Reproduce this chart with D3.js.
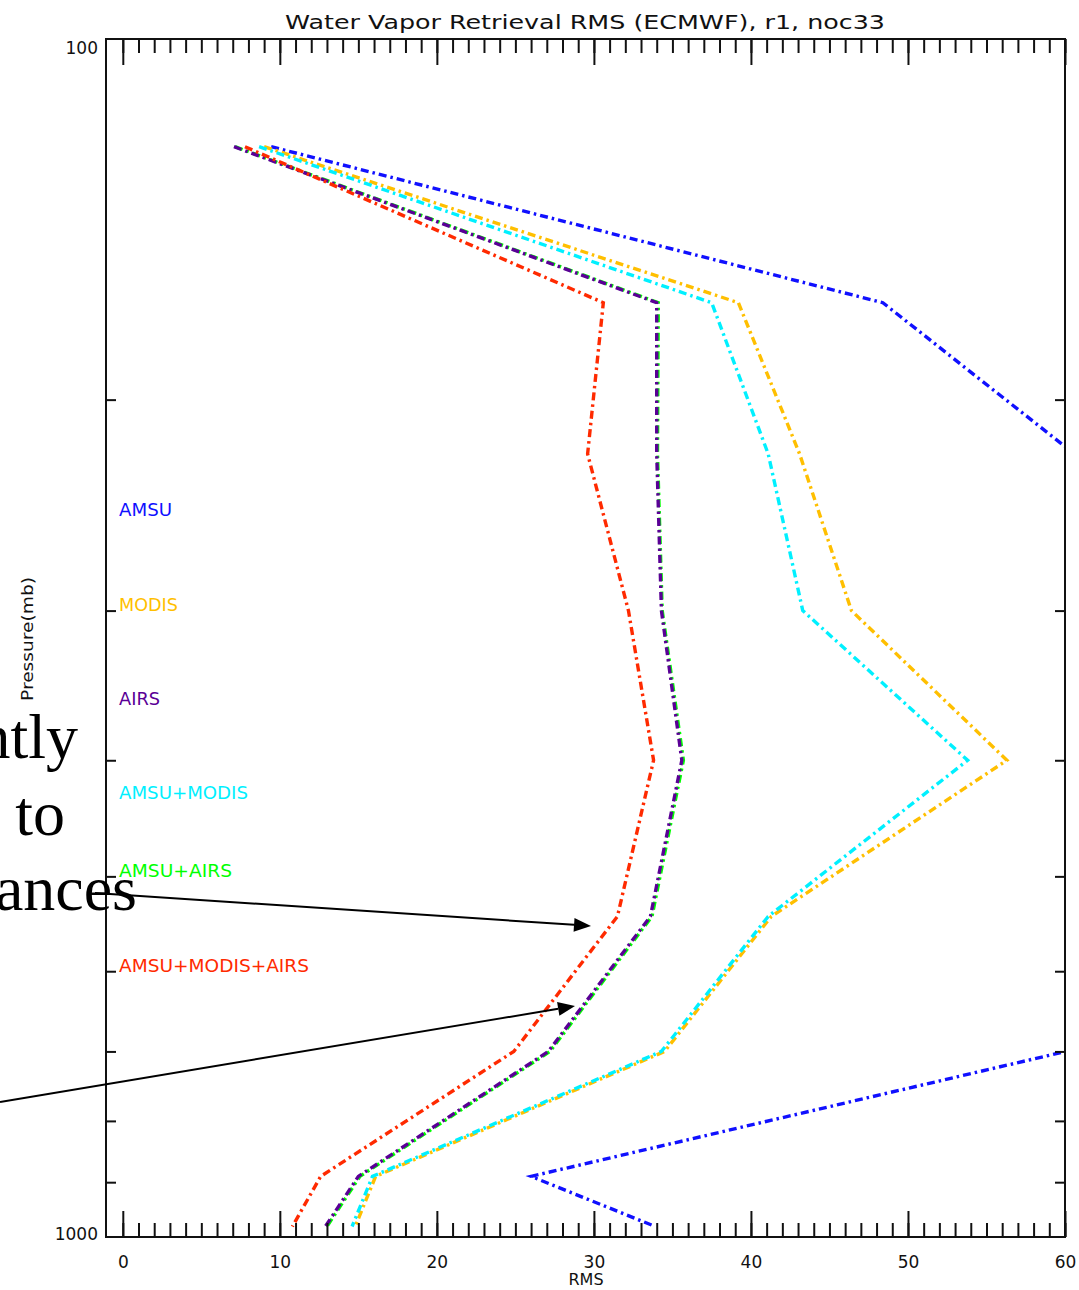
<!DOCTYPE html>
<html>
<head>
<meta charset="utf-8">
<script src="https://cdn.jsdelivr.net/npm/d3@7"></script>
<style>
  html, body { margin: 0; padding: 0; background: #fff; }
  svg { display: block; }
  .lbl { font-family: "DejaVu Sans", sans-serif; font-weight: normal; }
  .slide { font-family: "Liberation Serif", "Times New Roman", serif; }
</style>
</head>
<body>
<div id="chart"></div>
<script>
// Retrieval pressure levels (mb) and RMS profiles for each sensor combination
const pressureLevels = [123, 166, 222, 300, 400, 540, 700, 890, 980];
const rmsAMSU        = [9.45, 48.4, 60.6, 72.0, 78.0, 70.0, 60.05, 26.0, 33.9];
const rmsMODIS       = [9.0, 39.2, 43.1, 46.4, 56.3, 41.3, 34.5, 16.1, 14.8];
const rmsAIRS        = [7.08, 34.0, 34.0, 34.3, 35.6, 33.6, 27.1, 15.0, 12.9];
const rmsAmsuModis   = [8.68, 37.5, 41.1, 43.3, 53.8, 41.1, 34.3, 15.9, 14.6];
const rmsAmsuAirs    = [7.15, 34.1, 34.05, 34.35, 35.7, 33.7, 27.2, 15.1, 13.0];
const rmsAll         = [7.78, 30.6, 29.6, 32.2, 33.8, 31.5, 24.9, 12.6, 10.8];

const seriesNames  = ["AMSU", "MODIS", "AIRS", "AMSU+MODIS", "AMSU+AIRS", "AMSU+MODIS+AIRS"];
const seriesValues = [rmsAMSU, rmsMODIS, rmsAIRS, rmsAmsuModis, rmsAmsuAirs, rmsAll];
const seriesColors = ["#1010ff", "#ffbf00", "#5a0096", "#00f0ff", "#00ff00", "#ff2a00"];
// drawing order: later entries sit on top
const drawOrder = [0, 1, 4, 2, 3, 5];
// legend label pressure anchors (mb)
const legendPressure = [250, 300, 360, 431, 501, 601];

const xMajorTicks = [0, 10, 20, 30, 40, 50, 60];
const xMinorTicks = d3.range(0, 61, 1);
const yLabelTicks = [100, 1000];
const yMinorTicks = [200, 300, 400, 500, 600, 700, 800, 900];

const W = 1079, H = 1290;
const plotL = 106, plotR = 1065, plotT = 39, plotB = 1237;

const svg = d3.select("#chart").append("svg")
  .attr("width", W).attr("height", H);

const x = d3.scaleLinear().domain([-1.07, 60]).range([plotL, plotR]);
const y = d3.scaleLog().domain([100, 1000]).range([plotT, plotB]);

svg.append("defs").append("clipPath").attr("id", "plotClip")
  .append("rect").attr("x", plotL).attr("y", plotT)
  .attr("width", plotR - plotL).attr("height", plotB - plotT);

// profiles
const line = d3.line()
  .x(d => x(d[0]))
  .y(d => y(d[1]));

const lines = svg.append("g").attr("clip-path", "url(#plotClip)");
drawOrder.forEach(i => {
  const pts = seriesValues[i].map((v, k) => [v, pressureLevels[k]]);
  lines.append("path")
    .attr("d", line(pts))
    .attr("fill", "none")
    .attr("stroke", seriesColors[i])
    .attr("stroke-width", 3.4)
    .attr("stroke-dasharray", "8,4,2.5,4")
    .attr("stroke-linejoin", "miter");
});

// frame
svg.append("rect")
  .attr("x", plotL).attr("y", plotT)
  .attr("width", plotR - plotL).attr("height", plotB - plotT)
  .attr("fill", "none").attr("stroke", "#111").attr("stroke-width", 2);

function styleAxis(g) {
  g.select(".domain").remove();
  g.selectAll(".tick line").attr("stroke", "#111").attr("stroke-width", 2);
}

// bottom axis: minor + major ticks pointing inward, labels below
svg.append("g").attr("transform", `translate(0,${plotB})`)
  .call(d3.axisBottom(x).tickValues(xMinorTicks).tickSize(-14).tickFormat(""))
  .call(styleAxis);
const xb = svg.append("g").attr("transform", `translate(0,${plotB})`)
  .call(d3.axisBottom(x).tickValues(xMajorTicks).tickSize(-26).tickFormat(d3.format("d")))
  .call(styleAxis);
xb.selectAll("text")
  .attr("class", "lbl")
  .attr("y", 31).attr("dy", 0)
  .attr("font-size", 17).attr("fill", "#111");

// top axis: mirrored ticks
svg.append("g").attr("transform", `translate(0,${plotT})`)
  .call(d3.axisTop(x).tickValues(xMinorTicks).tickSize(-14).tickFormat(""))
  .call(styleAxis);
svg.append("g").attr("transform", `translate(0,${plotT})`)
  .call(d3.axisTop(x).tickValues(xMajorTicks).tickSize(-26).tickFormat(""))
  .call(styleAxis);

// pressure axis ticks on both sides
svg.append("g").attr("transform", `translate(${plotL},0)`)
  .call(d3.axisLeft(y).tickValues(yMinorTicks).tickSize(-10).tickFormat(""))
  .call(styleAxis);
svg.append("g").attr("transform", `translate(${plotR},0)`)
  .call(d3.axisRight(y).tickValues(yMinorTicks).tickSize(-10).tickFormat(""))
  .call(styleAxis);
const yl = svg.append("g").attr("transform", `translate(${plotL},0)`)
  .call(d3.axisLeft(y).tickValues(yLabelTicks).tickSize(0).tickPadding(8).tickFormat(d3.format("d")))
  .call(styleAxis);
yl.selectAll("text")
  .attr("class", "lbl")
  .attr("dy", 0)
  .attr("y", d => d === 100 ? 14 : 2)
  .attr("font-size", 17).attr("fill", "#111");

// title and axis titles
svg.append("text").attr("class", "lbl")
  .attr("x", 585).attr("y", 29)
  .attr("text-anchor", "middle")
  .attr("font-size", 20).attr("fill", "#111")
  .attr("textLength", 600).attr("lengthAdjust", "spacingAndGlyphs")
  .text("Water Vapor Retrieval RMS (ECMWF), r1, noc33");

svg.append("text").attr("class", "lbl")
  .attr("x", 586).attr("y", 1285)
  .attr("text-anchor", "middle")
  .attr("font-size", 16).attr("fill", "#111")
  .text("RMS");

svg.append("text").attr("class", "lbl")
  .attr("transform", "translate(33,639) rotate(-90)")
  .attr("text-anchor", "middle")
  .attr("font-size", 16).attr("fill", "#111")
  .attr("textLength", 124).attr("lengthAdjust", "spacingAndGlyphs")
  .text("Pressure(mb)");

// in-plot legend
const legendWidths = [53, 59, 41, 129, 113, 190];
seriesNames.forEach((name, i) => {
  svg.append("text").attr("class", "lbl")
    .attr("x", 119)
    .attr("y", y(legendPressure[i]))
    .attr("font-size", 17)
    .attr("fill", seriesColors[i])
    .attr("textLength", legendWidths[i]).attr("lengthAdjust", "spacingAndGlyphs")
    .text(name);
});

// overlaid slide text and callout arrows
const slideText = [
  { t: "ntly", x: 78, y: 758 },
  { t: "to", x: 65, y: 835 },
  { t: "ances", x: 137, y: 910 }
];
slideText.forEach(s => {
  svg.append("text").attr("class", "slide")
    .attr("x", s.x).attr("y", s.y)
    .attr("text-anchor", "end")
    .attr("font-size", 64).attr("fill", "#000")
    .text(s.t);
});

const arrows = [
  { x1: 95, y1: 893, x2: 591, y2: 926 },
  { x1: 0, y1: 1102, x2: 575, y2: 1006 }
];
arrows.forEach(a => {
  const ang = Math.atan2(a.y2 - a.y1, a.x2 - a.x1);
  const L = 17, Wd = 7;
  const bx = a.x2 - L * Math.cos(ang), by = a.y2 - L * Math.sin(ang);
  svg.append("line")
    .attr("x1", a.x1).attr("y1", a.y1).attr("x2", bx).attr("y2", by)
    .attr("stroke", "#000").attr("stroke-width", 2);
  const p1 = [bx + Wd * Math.sin(ang), by - Wd * Math.cos(ang)];
  const p2 = [bx - Wd * Math.sin(ang), by + Wd * Math.cos(ang)];
  svg.append("path")
    .attr("d", `M${a.x2},${a.y2}L${p1[0]},${p1[1]}L${p2[0]},${p2[1]}Z`)
    .attr("fill", "#000");
});
</script>
</body>
</html>
